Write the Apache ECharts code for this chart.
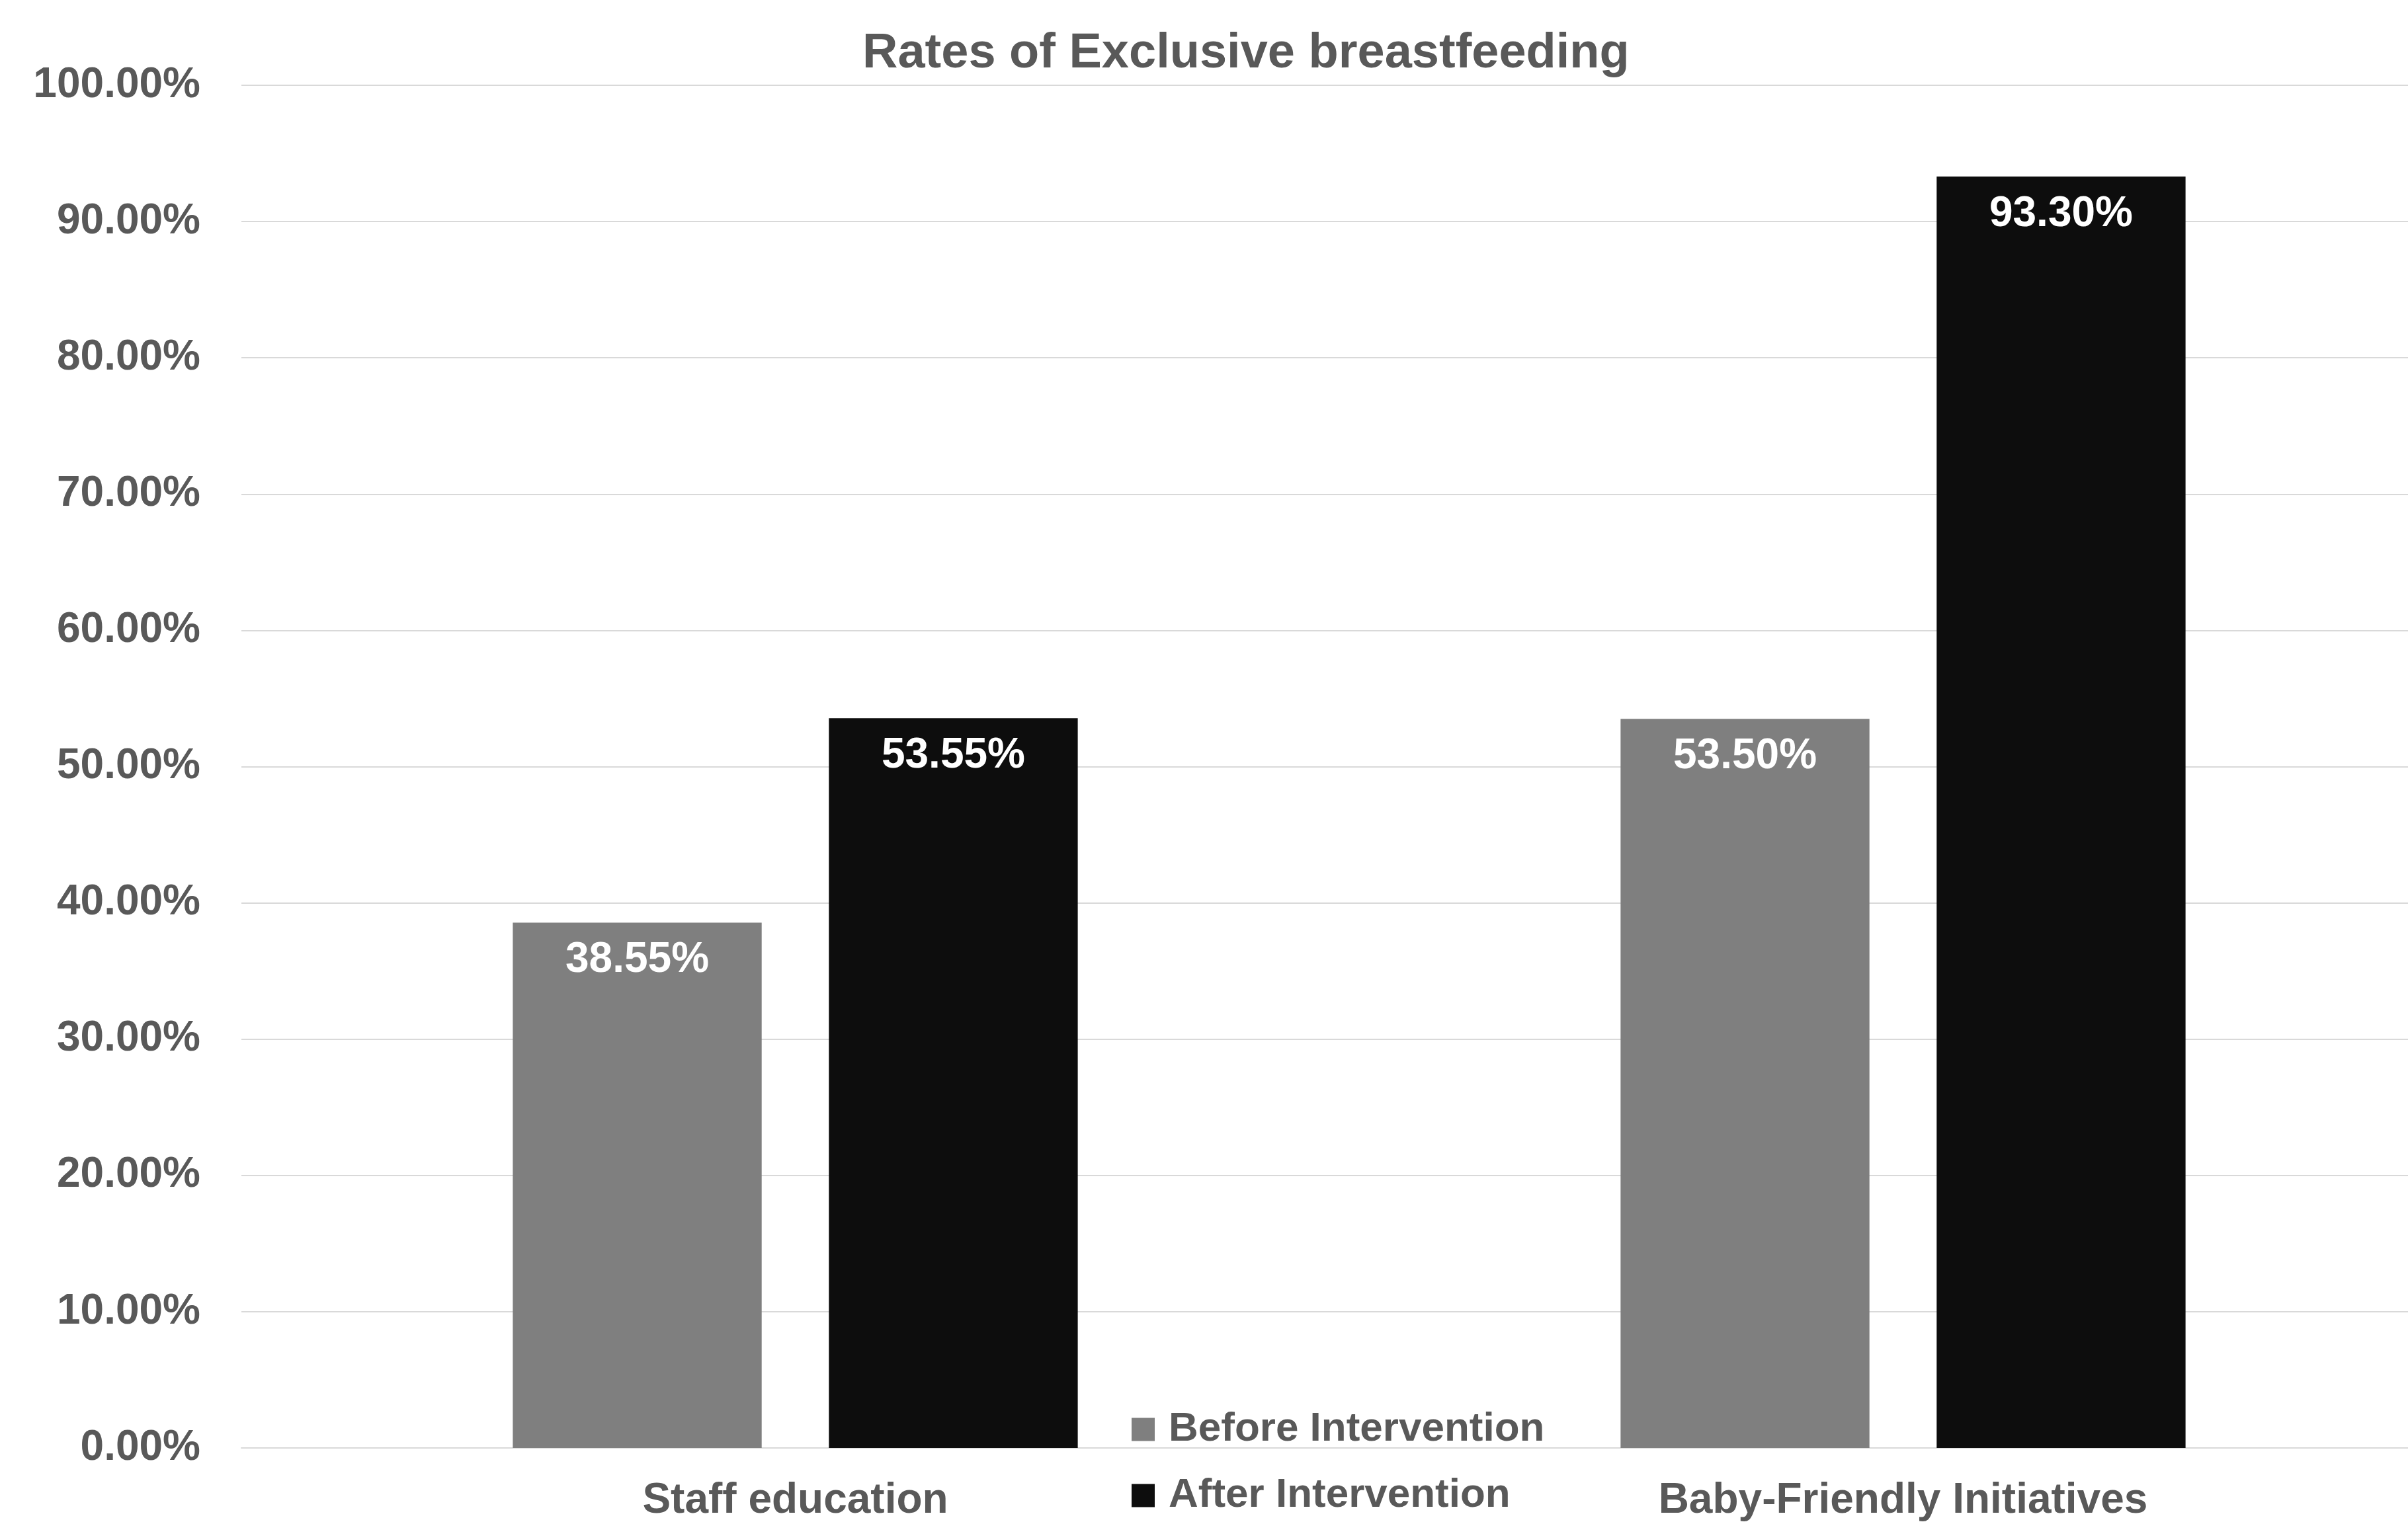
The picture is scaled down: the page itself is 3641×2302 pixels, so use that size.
<!DOCTYPE html>
<html>
<head>
<meta charset="utf-8">
<title>Rates of Exclusive breastfeeding</title>
<script src="https://cdn.jsdelivr.net/npm/echarts@6/dist/echarts.min.js"></script>
<style>
  html, body { margin: 0; padding: 0; background: #fff; }
  #chart { width: 3641px; height: 2302px; }
</style>
</head>
<body>
<div id="chart"></div>
<script>
// 数据
const categories = ["Staff education", "Baby-Friendly Initiatives"];
const seriesNames = ["Before Intervention", "After Intervention"];
const beforeValues = [38.55, 53.5];
const afterValues = [53.55, 93.3];

const textColor = "#595959";
const fontFamily = "'Liberation Sans', Arial, sans-serif";

const myChart = echarts.init(document.getElementById("chart"));

const pctLabel = {
  show: true,
  position: "insideTop",
  distance: 25,
  color: "#fff",
  fontSize: 64,
  fontWeight: "bold",
  formatter: (p) => p.value.toFixed(2) + "%"
};

let option = {
  animation: false,
  backgroundColor: "#fff",
  textStyle: { fontFamily: fontFamily },
  // 标题
  title: {
    text: "Rates of Exclusive breastfeeding",
    left: 1304,
    top: 45,
    padding: 0,
    textStyle: {
      color: textColor,
      fontSize: 74,
      fontWeight: "bold",
      fontFamily: fontFamily
    }
  },
  legend: {
    orient: "vertical",
    left: 1711,
    top: 2131,
    padding: 0,
    itemWidth: 35,
    itemHeight: 35,
    itemGap: 38,
    icon: "rect",
    data: seriesNames,
    textStyle: {
      color: textColor,
      fontSize: 62,
      lineHeight: 62,
      fontWeight: "bold",
      padding: [0, 0, 0, 16]
    }
  },
  // 绘图区右侧超出画布（原图被裁切）
  grid: {
    left: 365,
    right: -74,
    top: 129,
    bottom: 112,
    containLabel: false,
    outerBoundsMode: "none"
  },
  xAxis: {
    type: "category",
    data: categories,
    axisLine: { lineStyle: { color: "#d9d9d9", width: 2 } },
    axisTick: { show: false },
    axisLabel: {
      color: textColor,
      fontSize: 64,
      fontWeight: "bold",
      margin: 48
    }
  },
  yAxis: {
    type: "value",
    min: 0,
    max: 100,
    interval: 10,
    axisLine: { show: false },
    axisTick: { show: false },
    splitLine: { lineStyle: { color: "#d9d9d9", width: 2 } },
    axisLabel: {
      color: textColor,
      fontSize: 64,
      fontWeight: "bold",
      margin: 62,
      formatter: (v) => v.toFixed(2) + "%"
    }
  },
  series: [
    {
      name: seriesNames[0],
      type: "bar",
      data: beforeValues,
      barGap: "27%",
      barCategoryGap: "49%",
      itemStyle: { color: "#7f7f7f" },
      label: pctLabel
    },
    {
      name: seriesNames[1],
      type: "bar",
      data: afterValues,
      barGap: "27%",
      barCategoryGap: "49%",
      itemStyle: { color: "#0d0d0d" },
      label: pctLabel
    }
  ]
};

option && myChart.setOption(option);
</script>
</body>
</html>
